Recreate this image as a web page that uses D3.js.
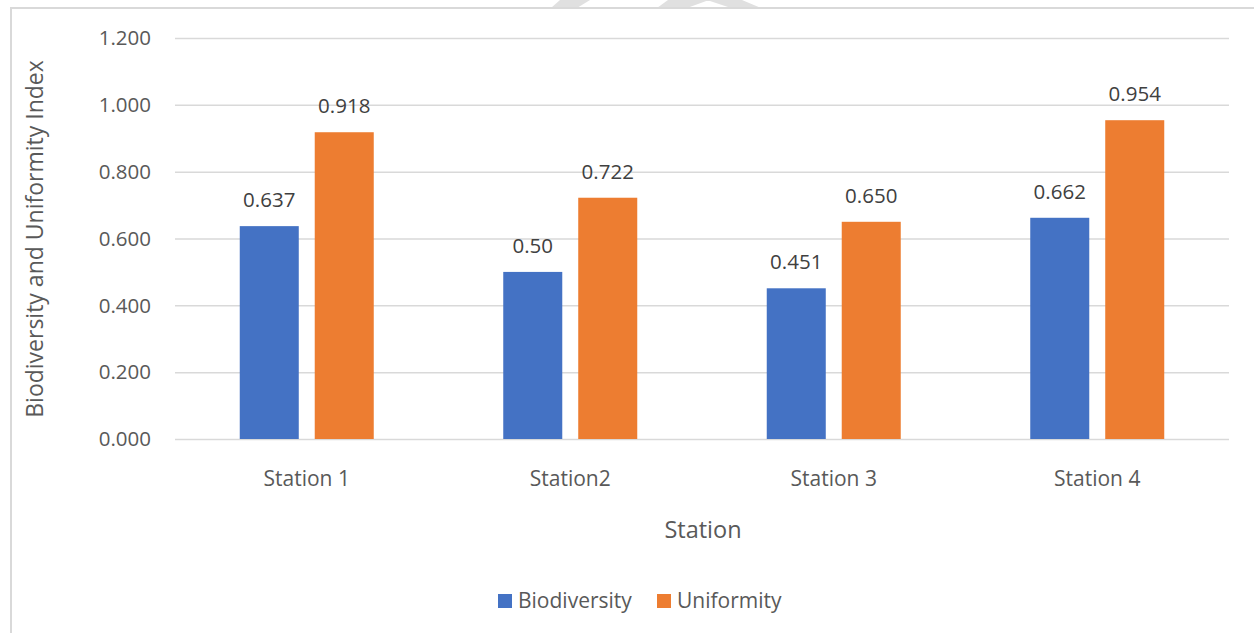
<!DOCTYPE html>
<meta charset="utf-8">
<style>
body { margin: 0; background: #fff; }
svg { display: block; }
text {
  font-family: "Open Sans", sans-serif;
  fill: #595959;
}
.grid line {
  stroke: #d9d9d9;
  stroke-width: 1.5px;
}
</style>
<svg width="1254" height="633"></svg>
<script src="https://d3js.org/d3.v7.min.js"></script>
<script>

var stations = ["Station 1", "Station2", "Station 3", "Station 4"];
var seriesNames = ["Biodiversity", "Uniformity"];
var biodiversity = [0.637, 0.50, 0.451, 0.662];
var uniformity = [0.918, 0.722, 0.650, 0.954];
var valueLabels = [["0.637", "0.50", "0.451", "0.662"], ["0.918", "0.722", "0.650", "0.954"]];
var yTicks = [0, 0.2, 0.4, 0.6, 0.8, 1.0, 1.2];
var colors = ["#4472c4", "#ed7d31"];

var svg = d3.select("svg");

// light watermark bits poking in over the top border
svg.append("g").attr("fill", "#e0e0e0")
  .selectAll("path")
  .data([
    "M560,0 L590,0 L577,8 L551,8 Z",
    "M668,0 L742,0 L761,8 L731,8 L707,0 L709,0 L687,8 L657,8 Z"
  ])
  .enter().append("path")
    .attr("d", function(d) { return d; });

// chart area border
svg.append("rect")
    .attr("x", 11)
    .attr("y", 8)
    .attr("width", 1260)
    .attr("height", 640)
    .attr("fill", "none")
    .attr("stroke", "#d9d9d9")
    .attr("stroke-width", 2);

var x0 = d3.scaleBand().domain(stations).range([175, 1229]).padding(0);
var groupW = 134;
var x1 = d3.scaleBand().domain(seriesNames)
    .range([(x0.bandwidth() - groupW) / 2, (x0.bandwidth() + groupW) / 2])
    .paddingInner(0.213).paddingOuter(0);
var y = d3.scaleLinear().domain([0, 1.2]).range([439, 38]);

// gridlines
svg.append("g")
    .attr("class", "grid")
    .attr("transform", "translate(175,0)")
    .call(d3.axisLeft(y).tickValues(yTicks).tickSize(-(1229 - 175)).tickFormat(""))
    .call(function(g) { g.select(".domain").remove(); });

// y tick labels
svg.append("g")
    .selectAll("text")
    .data(yTicks)
    .enter().append("text")
      .attr("x", 151)
      .attr("y", function(d) { return y(d); })
      .attr("dy", "0.35em")
      .attr("text-anchor", "end")
      .style("font-size", "20.5px")
      .text(function(d) { return d3.format(".3f")(d); });

// x category labels
svg.append("g")
    .selectAll("text")
    .data(stations)
    .enter().append("text")
      .attr("x", function(d) { return x0(d) + x0.bandwidth() / 2; })
      .attr("y", 479)
      .attr("dy", "0.35em")
      .attr("text-anchor", "middle")
      .style("font-size", "21px")
      .text(function(d) { return d; });

var rows = stations.map(function(s, i) {
  return { station: s, values: [biodiversity[i], uniformity[i]], i: i };
});

var groups = svg.append("g")
  .selectAll("g")
  .data(rows)
  .enter().append("g")
    .attr("transform", function(d) { return "translate(" + x0(d.station) + ",0)"; });

function cells(d) {
  return d.values.map(function(v, k) { return { key: seriesNames[k], v: v, k: k, i: d.i }; });
}

groups.selectAll("rect")
  .data(cells)
  .enter().append("rect")
    .attr("x", function(d) { return x1(d.key); })
    .attr("y", function(d) { return y(d.v); })
    .attr("width", x1.bandwidth())
    .attr("height", function(d) { return y(0) - y(d.v); })
    .attr("fill", function(d) { return colors[d.k]; });

groups.selectAll("text.val")
  .data(cells)
  .enter().append("text")
    .attr("class", "val")
    .attr("x", function(d) { return x1(d.key) + x1.bandwidth() / 2; })
    .attr("y", function(d) { return y(d.v) - 26; })
    .attr("dy", "0.35em")
    .attr("text-anchor", "middle")
    .style("font-size", "20.5px")
    .style("fill", "#404040")
    .text(function(d) { return valueLabels[d.k][d.i]; });

// axis titles
svg.append("text")
    .attr("x", 703)
    .attr("y", 530)
    .attr("dy", "0.35em")
    .attr("text-anchor", "middle")
    .style("font-size", "23.5px")
    .text("Station");

svg.append("text")
    .attr("transform", "translate(35,239) rotate(-90)")
    .attr("dy", "0.35em")
    .attr("text-anchor", "middle")
    .style("font-size", "23px")
    .text("Biodiversity and Uniformity Index");

// legend
var legendX = [498, 657];
var legend = svg.append("g")
  .selectAll("g")
  .data(seriesNames)
  .enter().append("g")
    .attr("transform", function(d, i) { return "translate(" + legendX[i] + ",601)"; });

legend.append("rect")
    .attr("x", 0)
    .attr("y", -7)
    .attr("width", 14)
    .attr("height", 14)
    .attr("fill", function(d, i) { return colors[i]; });

legend.append("text")
    .attr("x", 20)
    .attr("y", 0)
    .attr("dy", "0.35em")
    .style("font-size", "21px")
    .text(function(d) { return d; });

</script>
